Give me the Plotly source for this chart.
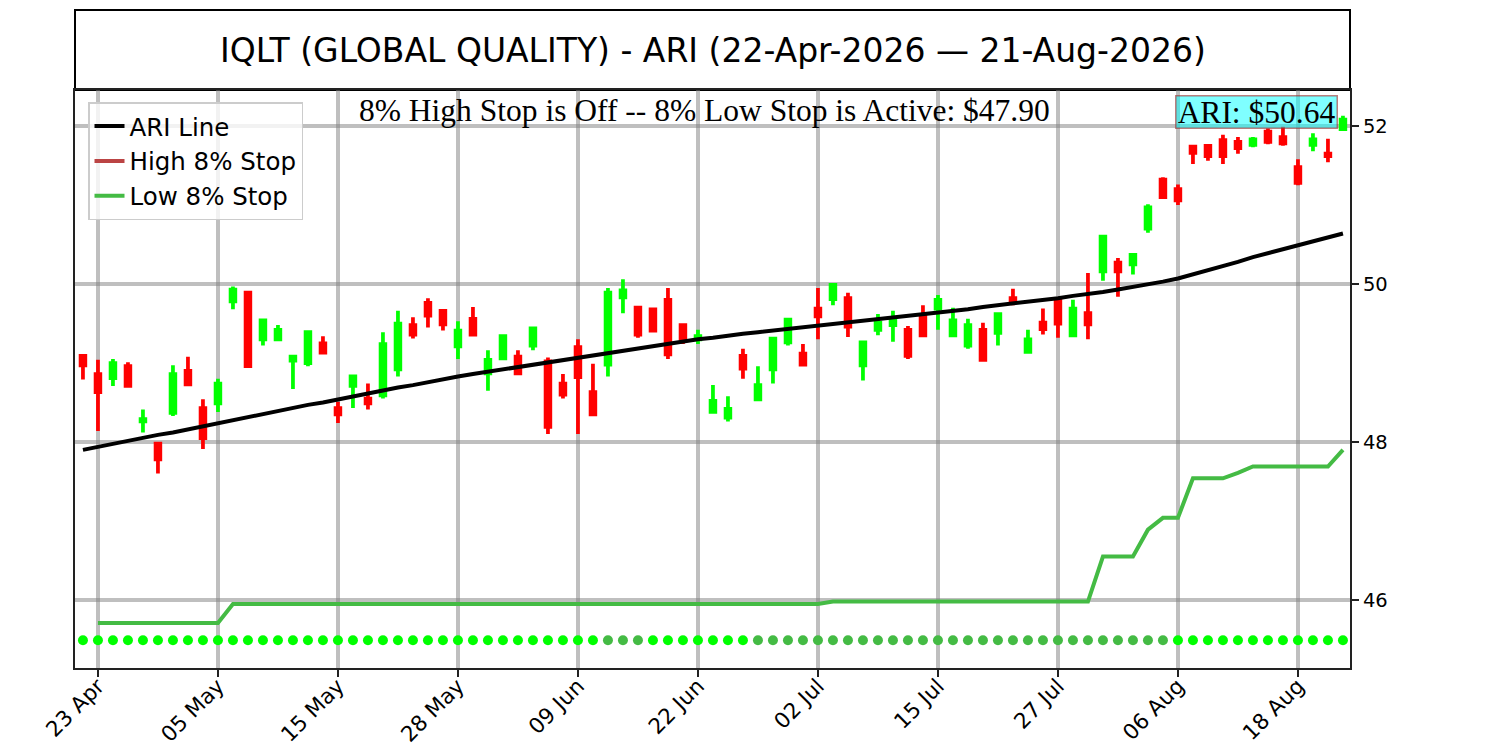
import pandas as pd
import plotly.graph_objects as go

# trading days shown (US market holidays skipped)
holidays = ["2026-05-25", "2026-06-19", "2026-07-03"]
dates = [d.strftime("%Y-%m-%d") for d in
         pd.bdate_range("2026-04-22", "2026-08-21", freq="C", holidays=holidays)]

tick_dates = ["2026-04-23", "2026-05-05", "2026-05-15", "2026-05-28", "2026-06-09",
              "2026-06-22", "2026-07-02", "2026-07-15", "2026-07-27", "2026-08-06",
              "2026-08-18"]
tick_text = ["23 Apr", "05 May", "15 May", "28 May", "09 Jun", "22 Jun",
             "02 Jul", "15 Jul", "27 Jul", "06 Aug", "18 Aug"]

opens = [49.09, 48.86, 48.81, 48.96, 48.26, 47.98, 48.37, 48.90, 48.43, 48.49,
         49.78, 49.89, 49.30, 49.30, 49.03, 49.00, 49.25, 48.43, 48.71, 48.55,
         48.59, 48.92, 49.48, 49.76, 49.66, 49.21, 49.56, 48.87, 49.06, 49.08,
         49.22, 49.02, 48.74, 49.20, 48.63, 48.98, 49.83, 49.70, 49.68, 49.80,
         49.48, 49.30, 48.38, 48.31, 49.09, 48.54, 48.92, 49.26, 49.12, 49.69,
         49.81, 49.82, 48.97, 49.42, 49.48, 49.42, 49.61, 49.69, 49.35, 49.22,
         49.42, 49.38, 49.82, 49.14, 49.51, 49.79, 49.35, 49.63, 50.16, 50.27,
         50.25, 50.70, 51.32, 51.20, 51.74, 51.75, 51.82, 51.80, 51.76, 51.93,
         51.86, 51.48, 51.76, 51.65, 51.96]
highs = [49.09, 49.04, 49.05, 49.01, 48.41, 47.98, 48.97, 49.08, 48.54, 48.80,
         49.97, 49.89, 49.54, 49.48, 49.10, 49.39, 49.34, 48.51, 48.84, 48.74,
         49.39, 49.66, 49.58, 49.82, 49.66, 49.53, 49.71, 49.16, 49.35, 49.16,
         49.45, 49.07, 48.86, 49.30, 48.99, 49.95, 50.06, 49.70, 49.69, 49.95,
         49.49, 49.42, 48.72, 48.58, 49.18, 48.96, 49.32, 49.57, 49.24, 49.95,
         50.00, 49.89, 49.27, 49.62, 49.66, 49.47, 49.73, 49.86, 49.70, 49.56,
         49.51, 49.64, 49.94, 49.42, 49.69, 49.81, 49.80, 50.14, 50.61, 50.33,
         50.38, 51.01, 51.35, 51.26, 51.75, 51.75, 51.89, 51.86, 51.86, 51.97,
         51.99, 51.58, 51.91, 51.84, 52.13]
lows = [48.79, 48.14, 48.71, 48.70, 48.12, 47.60, 48.33, 48.73, 47.91, 48.38,
        49.68, 48.95, 49.22, 49.30, 48.67, 48.96, 49.12, 48.24, 48.43, 48.41,
        48.55, 48.83, 49.31, 49.45, 49.41, 49.05, 49.36, 48.65, 49.06, 48.87,
        49.16, 48.10, 48.55, 48.10, 48.35, 48.83, 49.63, 49.32, 49.41, 49.05,
        49.24, 49.24, 48.38, 48.26, 48.80, 48.54, 48.74, 49.22, 48.98, 49.30,
        49.73, 49.33, 48.78, 49.35, 49.27, 49.05, 49.35, 49.42, 49.35, 49.18,
        49.02, 49.22, 49.73, 49.14, 49.36, 49.32, 49.35, 49.30, 50.04, 49.84,
        50.12, 50.65, 51.10, 51.00, 51.52, 51.56, 51.52, 51.65, 51.73, 51.77,
        51.75, 51.25, 51.68, 51.54, 51.96]
closes = [48.97, 48.63, 49.00, 48.71, 48.29, 47.78, 48.86, 48.73, 48.05, 48.74,
          49.93, 48.96, 49.54, 49.42, 49.08, 49.39, 49.13, 48.35, 48.83, 48.49,
          49.24, 49.50, 49.36, 49.60, 49.49, 49.41, 49.36, 49.04, 49.34, 48.87,
          49.44, 48.19, 48.60, 48.82, 48.35, 49.89, 49.92, 49.36, 49.41, 49.11,
          49.31, 49.34, 48.52, 48.42, 48.93, 48.72, 49.31, 49.55, 48.98, 49.59,
          49.99, 49.46, 49.26, 49.51, 49.57, 49.09, 49.35, 49.80, 49.54, 49.48,
          49.04, 49.62, 49.79, 49.30, 49.43, 49.50, 49.69, 49.49, 50.60, 50.16,
          50.37, 50.97, 51.10, 51.06, 51.66, 51.62, 51.62, 51.72, 51.83, 51.80,
          51.78, 51.28, 51.83, 51.62, 52.08]

ari = [47.90, 47.94, 47.98, 48.01, 48.05, 48.09, 48.12, 48.16, 48.20, 48.24,
       48.28, 48.32, 48.36, 48.40, 48.43, 48.47, 48.50, 48.54,
       48.57, 48.61, 48.65, 48.69, 48.72, 48.76, 48.80, 48.83,
       48.86, 48.89, 48.92, 48.95, 48.98, 49.01, 49.04, 49.07,
       49.10, 49.13, 49.16, 49.18, 49.21, 49.24, 49.27, 49.30,
       49.32, 49.35, 49.37, 49.39, 49.41, 49.44, 49.46, 49.48,
       49.50, 49.52, 49.54, 49.56, 49.58, 49.60, 49.62, 49.64,
       49.66, 49.68, 49.71, 49.73, 49.75, 49.77, 49.80, 49.82,
       49.85, 49.87, 49.90, 49.93, 49.96, 49.99, 50.03, 50.07,
       50.12, 50.17, 50.23, 50.28, 50.34, 50.39, 50.44, 50.49, 50.54, 50.59, 50.64]

# low 8% stop (trailing), high stop is off so it has no points
low_stop = ([None] + [45.71] * 9 + [45.95] * 40 + [45.98] * 18 + [46.55] * 3
            + [46.89] + [47.04] * 2 + [47.54] * 3 + [47.61] + [47.69] * 6 + [47.90])
high_stop = [None] * len(dates)

# signal dots along the bottom: 1 = bright green, 0 = dull green
dot_level = 45.49
dot_state = [1] * 35 + [0] * 3 + [1] * 7 + [0] * 28 + [1] * 12

ari_last = 50.64
low_stop_last = 47.90

fig = go.Figure()

fig.add_trace(go.Scatter(
    x=dates, y=[dot_level] * len(dates), mode="markers", showlegend=False,
    marker=dict(size=10, color=["#00ff00" if s else "#44bb44" for s in dot_state]),
    hoverinfo="skip"))

fig.add_trace(go.Candlestick(
    x=dates, open=opens, high=highs, low=lows, close=closes, showlegend=False,
    increasing=dict(line=dict(color="#00ff00", width=3.75), fillcolor="#00ff00"),
    decreasing=dict(line=dict(color="#ff0000", width=3.75), fillcolor="#ff0000")))

fig.add_trace(go.Scatter(x=dates, y=ari, mode="lines", name="ARI Line",
                         legendgroup="a", line=dict(color="black", width=4)))
fig.add_trace(go.Scatter(x=dates, y=high_stop, mode="lines", name="High 8% Stop",
                         legendgroup="b", line=dict(color="#bb4444", width=4)))
fig.add_trace(go.Scatter(x=dates, y=low_stop, mode="lines", name="Low 8% Stop",
                         legendgroup="c", line=dict(color="#44bb44", width=4)))

# title box above the plot
fig.add_shape(type="rect", xref="paper", yref="paper", x0=0, x1=1, y0=1, y1=1.1384,
              line=dict(color="black", width=2), fillcolor="white", layer="below")
fig.add_annotation(text="IQLT (GLOBAL QUALITY) - ARI (22-Apr-2026 \u2014 21-Aug-2026)",
                   xref="paper", yref="paper", x=0.5, y=1.069, showarrow=False,
                   xanchor="center", yanchor="middle",
                   font=dict(family="DejaVu Sans", size=33, color="black"))

fig.add_annotation(text=f"8% High Stop is Off -- 8% Low Stop is Active: ${low_stop_last:.2f}",
                   xref="paper", yref="paper", x=0.494, y=0.965, showarrow=False,
                   xanchor="center", yanchor="middle",
                   font=dict(family="Liberation Serif", size=31.5, color="black"))
fig.add_annotation(text=f"ARI: ${ari_last:.2f}",
                   xref="paper", yref="paper", x=0.9906, y=0.9913, showarrow=False,
                   xanchor="right", yanchor="top", height=29, width=158,
                   bgcolor="rgba(0,255,255,0.5)", bordercolor="rgba(160,40,40,0.6)",
                   borderwidth=1.5, borderpad=1,
                   font=dict(family="Liberation Serif", size=31.5, color="black"))

grid = "rgba(128,128,128,0.5)"
# page body offsets the figure by 8 px, so the figure is 8 px smaller each way
fig.update_layout(
    width=1492, height=742,
    margin=dict(l=67, r=150, t=82, b=82),
    paper_bgcolor="white", plot_bgcolor="white",
    boxgap=0.55,
    font=dict(family="DejaVu Sans", color="black"),
    showlegend=True,
    legend=dict(x=0.0102, y=0.979, xanchor="left", yanchor="top",
                bgcolor="rgba(255,255,255,0.8)", bordercolor="#cccccc", borderwidth=1.5,
                font=dict(family="DejaVu Sans", size=24.5), tracegroupgap=0,
                itemwidth=30),
    xaxis=dict(type="category", range=[-0.53, 84.47], rangeslider=dict(visible=False),
               automargin=False, ticklabelstandoff=-12,
               tickmode="array", tickvals=tick_dates, ticktext=tick_text, tickangle=-45,
               tickfont=dict(size=21.5), ticks="outside", ticklen=7, tickwidth=1.5,
               tickcolor="#222222",
               showgrid=True, gridcolor=grid, gridwidth=4,
               showline=True, linecolor="#222222", linewidth=2, mirror=True),
    yaxis=dict(side="right", range=[45.139, 52.456], tickvals=[46, 48, 50, 52],
               automargin=False,
               tickfont=dict(size=19.5), ticks="outside", ticklen=7, tickwidth=1.5,
               tickcolor="#222222",
               showgrid=True, gridcolor=grid, gridwidth=4, zeroline=False,
               showline=True, linecolor="#222222", linewidth=2, mirror=True),
)

fig.write_html("out.html")
